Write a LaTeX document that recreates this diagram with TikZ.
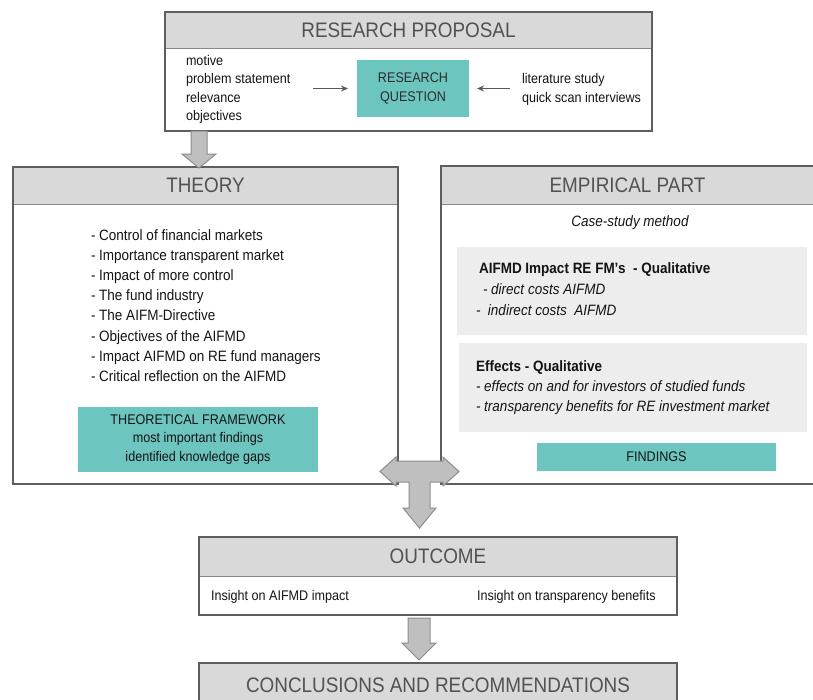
\documentclass[tikz,border=0pt]{standalone}
\usepackage{fontspec}
\setmainfont{Liberation Sans}[FakeStretch=0.9]
\usetikzlibrary{arrows.meta}
\definecolor{hdrgray}{HTML}{D9D9D9}
\definecolor{framegray}{HTML}{5E5E5E}
\definecolor{sepgray}{HTML}{8A8A8A}
\definecolor{tealc}{HTML}{6DC5BF}
\definecolor{panel}{HTML}{EDEDED}
\definecolor{arrowfill}{HTML}{BFBFBF}
\definecolor{arrowdraw}{HTML}{8C8C8C}
\definecolor{hdrtext}{HTML}{525252}
\definecolor{bodytext}{HTML}{141414}
\definecolor{arrowline}{HTML}{595959}
\begin{document}
\begin{tikzpicture}[x=1pt,y=-1pt,
  frame/.style={draw=framegray, line width=1.4pt, inner sep=0pt, outer sep=0pt},
  header/.style={fill=hdrgray, draw=sepgray, line width=1pt, inner sep=0pt, outer sep=0pt, text=hdrtext, font=\fontsize{21}{24}\selectfont},
  tealbox/.style={fill=tealc, inner sep=0pt, outer sep=0pt, text=bodytext, align=center},
  greybox/.style={fill=panel, inner sep=0pt, outer sep=0pt},
  body/.style={text=bodytext, inner sep=0pt, outer sep=0pt, align=left},
  fs14/.style={font=\fontsize{14}{18.5}\selectfont},
  fs15/.style={font=\fontsize{15}{20.1}\selectfont},
  smallarrow/.style={draw=arrowline, line width=1pt, -{Stealth[length=7pt,width=6pt]}},
  bigarrow/.style={fill=arrowfill, draw=arrowdraw, line width=1pt, line join=miter}
]
\useasboundingbox (0,0) rectangle (813,699);

% ---------- Research proposal ----------
\node[header, minimum width=487pt, minimum height=36pt, anchor=north west] (rph) at (165,12) {RESEARCH PROPOSAL};
\node[frame, minimum width=487pt, minimum height=119pt, anchor=north west] (rp) at (165,12) {};
\node[body, fs14, anchor=west] (motives) at (186,89.5) {motive\\problem statement\\relevance\\objectives};
\node[tealbox, minimum width=112pt, minimum height=57pt, font=\fontsize{14}{19}\selectfont, text=bodytext!90] (rq) at (413,88.5) {RESEARCH\\QUESTION};
\node[body, fs14, anchor=west] (lit) at (522,89.5) {literature study\\quick scan interviews};
\coordinate (m1) at (313,88.5);
\coordinate (m2) at (510,88.5);
\draw[smallarrow] (m1) -- ([xshift=-9pt]rq.west);
\draw[smallarrow] (m2) -- ([xshift=8pt]rq.east);

% ---------- Theory ----------
\node[header, minimum width=385pt, minimum height=37pt, anchor=north west] (thh) at (13,167) {THEORY};
\node[frame, minimum width=385pt, minimum height=317pt, anchor=north west] (th) at (13,167) {};
\node[body, fs15, anchor=west] (thlist) at (91,305.5) {- Control of financial markets\\- Importance transparent market\\- Impact of more control\\- The fund industry\\- The AIFM-Directive\\- Objectives of the AIFMD\\- Impact AIFMD on RE fund managers\\- Critical reflection on the AIFMD};
\node[tealbox, fs14, minimum width=240pt, minimum height=65pt] (tf) at (198,439.5) {THEORETICAL FRAMEWORK\\most important findings\\identified knowledge gaps};

% ---------- Empirical part ----------
\node[header, minimum width=373pt, minimum height=38pt, anchor=north west] (emh) at (441,166) {EMPIRICAL PART};
\node[frame, minimum width=373pt, minimum height=318pt, anchor=north west] (em) at (441,166) {};
\node[body, fs15] (case) at (630,223) {\itshape Case-study method};
\node[greybox, minimum width=350pt, minimum height=88pt] (imp) at (632,291) {};
\node[body, font=\fontsize{15}{21}\selectfont, anchor=west] (imptext) at (476,289.5) {\hspace*{3pt}{\bfseries AIFMD Impact RE FM’s\ \ - Qualitative}\\\hspace*{7pt}{\itshape - direct costs AIFMD}\\{\itshape -\ \ indirect costs\ \ AIFMD}};
\node[greybox, minimum width=348pt, minimum height=89pt] (eff) at (633,387.5) {};
\node[body, font=\fontsize{15}{20}\selectfont, anchor=west] (efftext) at (476,388) {{\bfseries Effects - Qualitative}\\{\itshape - effects on and for investors of studied funds}\\{\itshape - transparency benefits for RE investment market}};
\node[tealbox, fs14, minimum width=239pt, minimum height=28pt] (find) at (656.5,457) {FINDINGS};

% ---------- Outcome ----------
\node[header, minimum width=478pt, minimum height=39pt, anchor=north west] (outh) at (199,537) {OUTCOME};
\node[frame, minimum width=478pt, minimum height=78pt, anchor=north west] (out) at (199,537) {};
\node[body, fs14, anchor=west] (ins1) at (211,597) {Insight on AIFMD impact};
\node[body, fs14, anchor=west] (ins2) at (477,597) {Insight on transparency benefits};

% ---------- Conclusions ----------
\node[header, minimum width=478pt, minimum height=60pt, anchor=north west] (conh) at (199,663) {};
\node[frame, minimum width=478pt, minimum height=60pt, anchor=north west] (con) at (199,663) {};
\node[text=hdrtext, inner sep=0pt, font=\fontsize{21}{24}\selectfont] (context) at (438,685) {CONCLUSIONS AND RECOMMENDATIONS};

% ---------- Block arrows ----------
\coordinate (a1) at (199,131);
\draw[bigarrow] (a1) ++(-8,0) -- ++(16,0) -- ++(0,23) -- ++(9,0) -- ++(-17,14) -- ++(-17,-14) -- ++(9,0) -- cycle;

\coordinate (tj) at (419.5,461);
\draw[bigarrow] (380,471.5) -- (396,457) -- (396,461) -- (443,461) -- (443,457) -- (459,471.5) -- (443,486) -- (443,482) -- (430,482) -- (430,508) -- (436,508) -- (419.5,528) -- (403,508) -- (409,508) -- (409,482) -- (396,482) -- (396,486) -- cycle;

\coordinate (a3) at (419,618);
\draw[bigarrow] (a3) ++(-11,0) -- ++(22,0) -- ++(0,25) -- ++(6,0) -- ++(-17,17) -- ++(-17,-17) -- ++(6,0) -- cycle;
\end{tikzpicture}
\end{document}
